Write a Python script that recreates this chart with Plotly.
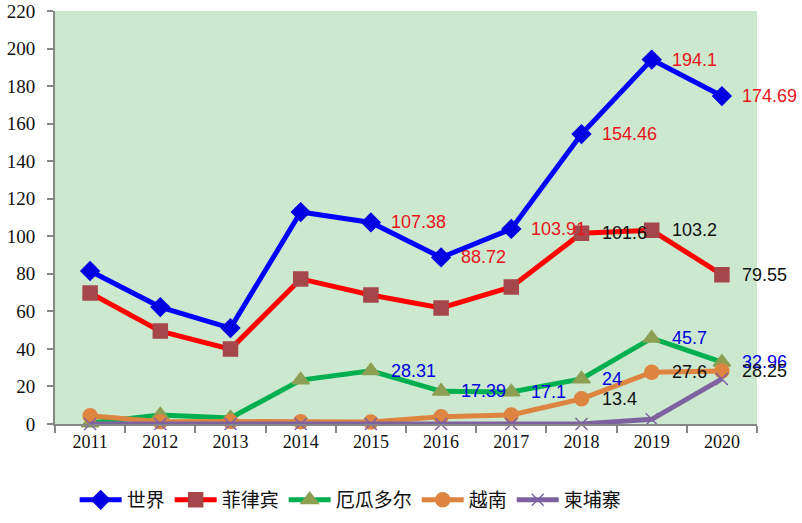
import plotly.graph_objects as go

years = ["2011", "2012", "2013", "2014", "2015", "2016", "2017", "2018", "2019", "2020"]
world = [81.5, 62.3, 51.1, 112.9, 107.38, 88.72, 103.91, 154.46, 194.1, 174.69]
philippines = [69.8, 49.5, 39.9, 77.3, 68.7, 61.8, 73.0, 101.6, 103.2, 79.55]
ecuador = [0.5, 4.8, 3.2, 23.4, 28.31, 17.39, 17.1, 24.0, 45.7, 32.96]
vietnam = [4.4, 1.2, 1.3, 1.2, 1.1, 3.9, 4.8, 13.4, 27.6, 28.25]
cambodia = [0.0, 0.0, 0.0, 0.0, 0.0, 0.0, 0.0, 0.0, 2.5, 24.0]

world_lbl = ["", "", "", "", "107.38", "88.72", "103.91", "154.46", "194.1", "174.69"]
phil_lbl = ["", "", "", "", "", "", "", "101.6", "103.2", "79.55"]
ecu_lbl = ["", "", "", "", "28.31", "17.39", "17.1", "24", "45.7", "32.96"]
viet_lbl = ["", "", "", "", "", "", "", "13.4", "27.6", "28.25"]

LBL_FONT = "Liberation Sans"
SERIF = "Liberation Serif"

fig = go.Figure()

def add(name, y, lcolor, mcolor, symbol, msize):
    fig.add_trace(go.Scatter(
        x=years, y=y, name=name, mode="lines+markers",
        line=dict(color=lcolor, width=5),
        marker=dict(color=mcolor, symbol=symbol, size=msize,
                    line=dict(color=mcolor, width=1.5)),
        cliponaxis=False,
    ))

def labels(y, text, tcolor):
    # annotation x given as category index on the category axis
    for i, (yv, t) in enumerate(zip(y, text)):
        if t:
            fig.add_annotation(x=i, y=yv, text=t, showarrow=False,
                               xanchor="left", yanchor="middle", xshift=18,
                               font=dict(family=LBL_FONT, size=18, color=tcolor))

add("世界", world, "#0000FF", "#0000E0", "diamond", 14)
add("菲律宾", philippines, "#FF0000", "#A5474A", "square", 14)
add("厄瓜多尔", ecuador, "#00B050", "#8C9F52", "triangle-up", 15)
add("越南", vietnam, "#DD8540", "#DD8540", "circle", 14)
add("柬埔寨", cambodia, "#7E62A0", "#7E62A0", "x-thin", 12)

labels(world, world_lbl, "#E8141B")
labels(philippines, phil_lbl, "#111111")
labels(ecuador, ecu_lbl, "#0000E0")
labels(vietnam, viet_lbl, "#111111")

fig.update_layout(
    width=802, height=523,
    margin=dict(l=55, r=45, t=11, b=99, autoexpand=False),
    paper_bgcolor="white",
    plot_bgcolor="#CCE8CF",
    font=dict(family=SERIF, size=18, color="#111111"),
    showlegend=True,
    legend=dict(orientation="h", x=0.028, xanchor="left", y=-0.184, yanchor="middle",
                font=dict(family="Noto Sans CJK SC", size=19, color="#111111"),
                itemwidth=42, tracegroupgap=0, bgcolor="rgba(0,0,0,0)"),
    xaxis=dict(type="category", range=[-0.5, len(years) - 0.5], showgrid=False, showline=True,
               linecolor="#868686", linewidth=2,
               ticks="outside", tickson="boundaries", ticklen=7, tickcolor="#868686", tickwidth=1.5,
               automargin=False, tickangle=0,
               tickfont=dict(family=SERIF, size=18, color="#111111")),
    yaxis=dict(range=[0, 220], dtick=20, showgrid=False, showline=True, linecolor="#868686",
               linewidth=2, ticks="outside", ticklen=6, tickcolor="#868686", tickwidth=1.5,
               zeroline=False, automargin=False, ticklabelstandoff=8,
               tickfont=dict(family=SERIF, size=19, color="#111111")),
)

fig.write_html("out.html")
